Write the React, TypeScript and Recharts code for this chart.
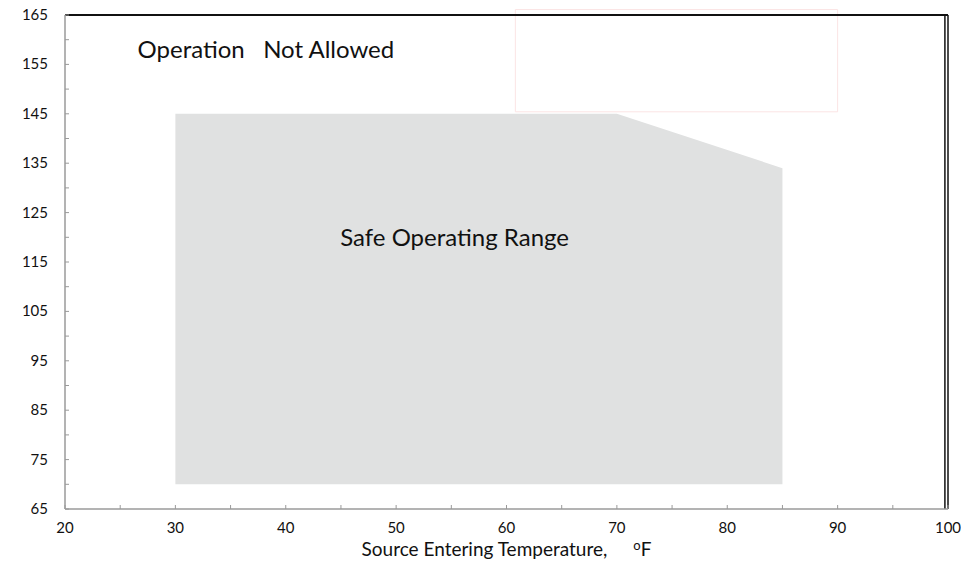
import React from 'react';
import {
  ComposedChart,
  Area,
  XAxis,
  YAxis,
  ReferenceLine,
  ReferenceArea,
  ReferenceDot,
} from 'recharts';

// operating envelope corners (source entering temp vs leaving temp)
const sourceTemps = [30, 70, 85];
const maxLeaving = [145, 145, 134];
const minLeaving = 70;

const xTicks = [20, 25, 30, 35, 40, 45, 50, 55, 60, 65, 70, 75, 80, 85, 90, 95, 100];
const yTicks = [65, 70, 75, 80, 85, 90, 95, 100, 105, 110, 115, 120, 125, 130, 135, 140, 145, 150, 155, 160, 165];

const data = sourceTemps.map((t, i) => ({ x: t, y: maxLeaving[i] }));

const FONT = 'Lato, "Noto Sans", sans-serif';
const AXIS_GRAY = '#9a9a9a';

const YTick = (props: any) => {
  const { x, y, payload } = props;
  const axisX = x + 17;
  const show = payload.value % 10 === 5;
  return (
    <g>
      <line x1={axisX} x2={axisX + 4} y1={y} y2={y} stroke={AXIS_GRAY} strokeWidth={1} />
      {show && (
        <text x={x} y={y} dy={5} textAnchor="end" fontSize={15} fontFamily={FONT} fill="#111">
          {payload.value}
        </text>
      )}
    </g>
  );
};

const XTick = (props: any) => {
  const { x, y, payload } = props;
  const axisY = y - 12;
  const show = payload.value % 10 === 0;
  return (
    <g>
      <line x1={x} x2={x} y1={axisY} y2={axisY - 4} stroke={AXIS_GRAY} strokeWidth={1} />
      {show && (
        <text x={x} y={y} dy={12} textAnchor="middle" fontSize={15} fontFamily={FONT} fill="#111">
          {payload.value}
        </text>
      )}
    </g>
  );
};

const XTitle = (props: any) => {
  const { viewBox } = props;
  const cx = viewBox.x + viewBox.width / 2;
  return (
    <text x={cx} y={556} textAnchor="middle" fontSize={19} fontFamily={FONT} fill="#111">
      Source Entering Temperature,
      <tspan dx={26} fontSize={13} dy={-6}>o</tspan>
      <tspan fontSize={19} dy={6}>F</tspan>
    </text>
  );
};

export default function App() {
  return (
    <div style={{ position: 'absolute', left: 0, top: 0, background: '#fff' }}>
      <ComposedChart
        width={961}
        height={567}
        data={data}
        margin={{ top: 15, right: 13, left: 0, bottom: 0 }}
      >
        <XAxis
          dataKey="x"
          type="number"
          domain={[20, 100]}
          ticks={xTicks}
          interval={0}
          height={58}
          tickSize={0}
          tickMargin={12}
          tickLine={false}
          axisLine={{ stroke: AXIS_GRAY, strokeWidth: 1.5 }}
          tick={<XTick />}
          label={<XTitle />}
        />
        <YAxis
          type="number"
          domain={[65, 165]}
          ticks={yTicks}
          interval={0}
          width={65}
          tickSize={0}
          tickMargin={17}
          tickLine={false}
          axisLine={{ stroke: AXIS_GRAY, strokeWidth: 1.5 }}
          tick={<YTick />}
        />
        <Area
          type="linear"
          dataKey="y"
          baseValue={minLeaving}
          fill="#e0e1e1"
          fillOpacity={1}
          stroke="none"
          isAnimationActive={false}
        />
        <ReferenceLine y={165} stroke="#111" strokeWidth={2} />
        <ReferenceLine x={100} stroke="#111" strokeWidth={1.5} />
        <ReferenceLine x={99.72} stroke="#111" strokeWidth={1.5} />
        <ReferenceArea
          x1={60.8}
          x2={90}
          y1={145.4}
          y2={166.1}
          ifOverflow="visible"
          fill="#fff"
          fillOpacity={1}
          stroke="#fbe4e4"
          strokeWidth={1}
        />
        <ReferenceDot
          x={38.2}
          y={158.1}
          r={0}
          fill="none"
          stroke="none"
          label={{ value: 'Operation\u00A0\u00A0 Not Allowed', position: 'center', fontSize: 24, fontFamily: FONT, fill: '#111' }}
        />
        <ReferenceDot
          x={55.3}
          y={119.9}
          r={0}
          fill="none"
          stroke="none"
          label={{ value: 'Safe Operating Range', position: 'center', fontSize: 24, fontFamily: FONT, fill: '#111' }}
        />
      </ComposedChart>
    </div>
  );
}
